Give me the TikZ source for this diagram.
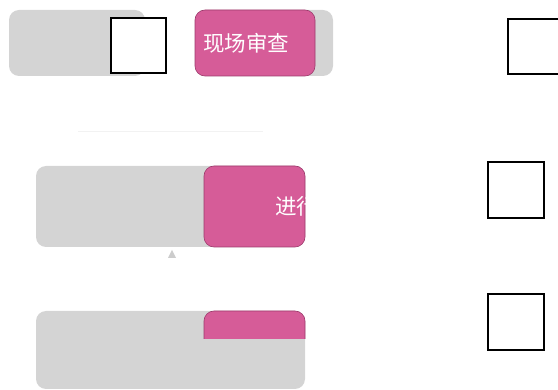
\documentclass[tikz,border=0pt]{standalone}
\usepackage{fontspec}
\newfontfamily\cjk{Noto Sans CJK SC}
\usetikzlibrary{positioning}
\definecolor{boxgray}{HTML}{D4D4D4}
\definecolor{rose}{HTML}{D65C98}
\definecolor{rosedark}{HTML}{9C3A6C}

\begin{document}
\begin{tikzpicture}[x=1pt,y=-1pt,outer sep=0pt]
\tikzstyle{graybox} = [fill=boxgray, rounded corners=10pt, rectangle, anchor=north west, inner sep=0pt]
\tikzstyle{pinkbox} = [fill=rose, draw=rosedark, line width=0.6pt, rounded corners=10pt, rectangle, anchor=north west, inner sep=0pt]
\tikzstyle{slot} = [draw=black, line width=1.6pt, fill=white, rectangle, anchor=north west, inner sep=0pt, minimum size=55pt]
\tikzstyle{steplabel} = [text=white, font=\cjk\fontsize{21.5}{24}\selectfont, inner sep=0pt, anchor=west]
\tikzstyle{faint} = [draw=gray!10, line width=0.8pt]

\clip (0,0) rectangle (558,390);

% Top row
\node[graybox, minimum width=136pt, minimum height=66pt] (idle) at (9,10) {};
\node[slot] (slotA) at (111,18) {};
\node[graybox, minimum width=138pt, minimum height=66pt] (reviewbg) at (195,10) {};
\node[pinkbox, minimum width=120pt, minimum height=66pt] (review) at (195,10) {};
\node[steplabel, right=8pt of review.west] (reviewlbl) {现场审查};

% faint link
\coordinate (lineL) at (78,131);
\coordinate (lineR) at (263,131);
\draw[faint] (lineL) -- (lineR);

% Middle row
\node[graybox, minimum width=269pt, minimum height=81pt] (stage) at (36,166) {};
\node[pinkbox, minimum width=101pt, minimum height=81pt] (doing) at (204,166) {};
\begin{scope}
  \clip (doing.north west) rectangle (doing.south east);
  \node[steplabel, right=71pt of doing.west] (doinglbl) {进行};
\end{scope}
\coordinate (tip) at (172,250);
\fill[gray!40] (tip) -- ++(-4,8) -- ++(8,0) -- cycle;

% Bottom row
\node[graybox, minimum width=269pt, minimum height=78pt] (stagetwo) at (36,311) {};
\begin{scope}
  \clip (200,305) rectangle (308,339);
  \node[pinkbox, minimum width=101pt, minimum height=78pt] (doingtwo) at (204,311) {};
\end{scope}

% Right column
\node[slot] (slotB) at (508,19) {};
\node[slot, minimum size=56pt] (slotC) at (488,162) {};
\node[slot, minimum size=56pt] (slotD) at (488,294) {};
\end{tikzpicture}
\end{document}
